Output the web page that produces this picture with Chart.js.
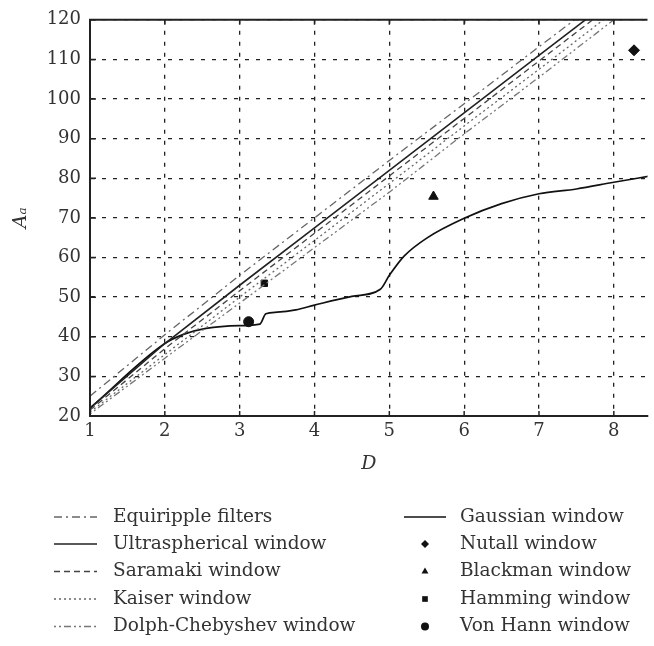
<!DOCTYPE html>
<html>
<head>
<meta charset="utf-8">
<script src="https://cdn.jsdelivr.net/npm/chart.js@4/dist/chart.umd.min.js"></script>
<style>
    html, body { margin: 0; padding: 0; background: #fff; }
    #wrap { width: 654px; height: 646px; }
</style>
</head>
<body>
<div id="wrap"><canvas id="chart"></canvas></div>
<script>
// straight-ish design curves
dValues = [1, 2, 3, 4, 5, 6, 7, 8];
equiripple = [25, 40.5, 55.5, 70, 84.5, 98.8, 113.2, 127.5];
ultraspherical = [22, 38.3, 53, 67.5, 82, 96.5, 111, 125.5];
saramaki = [21.5, 37, 51.6, 66.1, 80.6, 95.1, 109.6, 124.1];
kaiser = [21, 35.5, 50, 64.3, 78.7, 93.2, 107.5, 122];
dolph = [20.5, 34.6, 48.5, 62.5, 76.5, 91.2, 105.5, 120];

// Gaussian window curve
gaussD = [1, 2, 2.25, 2.55, 3, 3.27, 3.35, 3.5, 3.75, 4, 4.5, 4.88, 5, 5.2, 5.5, 6, 6.5, 7, 7.5, 8, 8.5];
gaussA = [22, 38.3, 40.6, 42.1, 42.8, 43.2, 45.8, 46.2, 46.8, 48, 50.2, 52, 55.5, 60.4, 64.9, 69.9, 73.6, 76.1, 77.3, 79, 80.6];

// single windows
nutall = [8.27, 112.3];
blackman = [5.59, 75.4];
hamming = [3.33, 53.5];
vonHann = [3.12, 43.8];

xTicks = [1, 2, 3, 4, 5, 6, 7, 8];
yTicks = [20, 30, 40, 50, 60, 70, 80, 90, 100, 110, 120];

FONT = "'DejaVu Serif', 'Liberation Serif', serif";

function toPoints(xs, ys) {
    return xs.map((x, i) => ({ x: x, y: ys[i] }));
}

function lineSet(label, ys, color, dash, width) {
    return {
        label: label,
        data: toPoints(dValues, ys),
        showLine: true,
        borderColor: color,
        borderDash: dash,
        borderWidth: width,
        pointRadius: 0,
        fill: false,
        legendCol: 0
    };
}

function markerSet(label, pt, style, radius) {
    return {
        label: label,
        data: [{ x: pt[0], y: pt[1] }],
        showLine: false,
        pointStyle: style,
        pointRadius: radius,
        backgroundColor: '#111',
        borderColor: '#111',
        borderWidth: 1,
        legendCol: 1
    };
}

datasets = [
    lineSet('Equiripple filters', equiripple, '#666', [8, 4, 2, 4], 1.3),
    lineSet('Ultraspherical window', ultraspherical, '#222', [], 1.6),
    lineSet('Saramaki window', saramaki, '#444', [6, 4], 1.3),
    lineSet('Kaiser window', kaiser, '#666', [2, 3], 1.3),
    lineSet('Dolph-Chebyshev window', dolph, '#777', [2, 3, 2, 3, 7, 3], 1.3),
    {
        label: 'Gaussian window',
        data: toPoints(gaussD, gaussA),
        showLine: true,
        borderColor: '#111',
        borderWidth: 1.7,
        pointRadius: 0,
        cubicInterpolationMode: 'monotone',
        fill: false,
        legendCol: 1
    },
    markerSet('Nutall window', nutall, 'rectRot', 5.5),
    markerSet('Blackman window', blackman, 'triangle', 5.5),
    markerSet('Hamming window', hamming, 'rect', 4.5),
    markerSet('Von Hann window', vonHann, 'circle', 5)
];

// frame: solid borders and small inner tick marks
framePlugin = {
    id: 'frame',
    afterDatasetsDraw(chart) {
        const ctx = chart.ctx;
        const a = chart.chartArea;
        const xs = chart.scales.x, ys = chart.scales.y;
        ctx.save();
        ctx.setLineDash([]);
        ctx.strokeStyle = '#222';
        ctx.lineWidth = 2;
        ctx.beginPath();
        ctx.moveTo(a.right, a.top);
        ctx.lineTo(a.left, a.top);
        ctx.lineTo(a.left, a.bottom);
        ctx.lineTo(a.right, a.bottom);
        ctx.stroke();
        ctx.lineWidth = 1.5;
        ctx.beginPath();
        xTicks.forEach(v => {
            const px = xs.getPixelForValue(v);
            ctx.moveTo(px, a.top); ctx.lineTo(px, a.top + 5);
            ctx.moveTo(px, a.bottom); ctx.lineTo(px, a.bottom - 5);
        });
        yTicks.forEach(v => {
            const py = ys.getPixelForValue(v);
            ctx.moveTo(a.left, py); ctx.lineTo(a.left + 6, py);
        });
        ctx.stroke();
        ctx.restore();
    }
};

// legend in two columns under the plot
legendPlugin = {
    id: 'bookLegend',
    afterDraw(chart) {
        const ctx = chart.ctx;
        const rowY = [517, 544, 571.5, 599, 626.5];
        const cols = [{ x0: 54, x1: 97, tx: 113 }, { x0: 404, x1: 446, tx: 460 }];
        const rows = [0, 0];
        ctx.save();
        ctx.font = "18.5px " + FONT;
        ctx.textBaseline = 'middle';
        chart.data.datasets.forEach(ds => {
            const c = cols[ds.legendCol];
            const y = rowY[rows[ds.legendCol]++];
            if (ds.showLine) {
                ctx.strokeStyle = ds.borderColor;
                ctx.lineWidth = ds.borderWidth;
                ctx.setLineDash(ds.borderDash || []);
                ctx.beginPath();
                ctx.moveTo(c.x0, y);
                ctx.lineTo(c.x1, y);
                ctx.stroke();
                ctx.setLineDash([]);
            } else {
                ctx.fillStyle = '#111';
                Chart.helpers.drawPoint(ctx, { pointStyle: ds.pointStyle, radius: 4, borderWidth: 0 }, (c.x0 + c.x1) / 2, y);
            }
            ctx.fillStyle = '#333';
            ctx.fillText(ds.label, c.tx, y);
        });
        ctx.restore();
    }
};

new Chart(document.getElementById('chart'), {
    type: 'scatter',
    data: { datasets: datasets },
    options: {
        responsive: true,
        maintainAspectRatio: false,
        animation: false,
        devicePixelRatio: 1,
        layout: { padding: { top: 13, right: 0, left: 0, bottom: 171 } },
        plugins: {
            legend: { display: false },
            tooltip: { enabled: false }
        },
        scales: {
            x: {
                type: 'linear',
                min: 1,
                max: 8.45,
                afterFit(scale) { scale.height = 59; },
                afterBuildTicks(scale) { scale.ticks = xTicks.map(v => ({ value: v })); },
                ticks: { font: { family: FONT, size: 18 }, color: '#333', padding: 5 },
                grid: { color: '#222', lineWidth: 1.3, drawTicks: false },
                border: { display: true, color: '#222', width: 2, dash: [4, 7] },
                title: { display: true, text: 'D', font: { family: FONT, size: 19, style: 'italic' }, color: '#333', padding: 0 }
            },
            y: {
                min: 20,
                max: 120,
                afterFit(scale) { scale.width = 90; },
                afterBuildTicks(scale) { scale.ticks = yTicks.map(v => ({ value: v })); },
                ticks: { font: { family: FONT, size: 18 }, color: '#333', padding: 9 },
                grid: { color: '#222', lineWidth: 1.3, drawTicks: false },
                border: { display: true, color: '#222', width: 2, dash: [4, 7] },
                title: { display: true, text: 'Aₐ', font: { family: FONT, size: 19, style: 'italic' }, color: '#333', padding: { top: 10, bottom: 0 } }
            }
        }
    },
    plugins: [framePlugin, legendPlugin]
});
</script>
</body>
</html>
